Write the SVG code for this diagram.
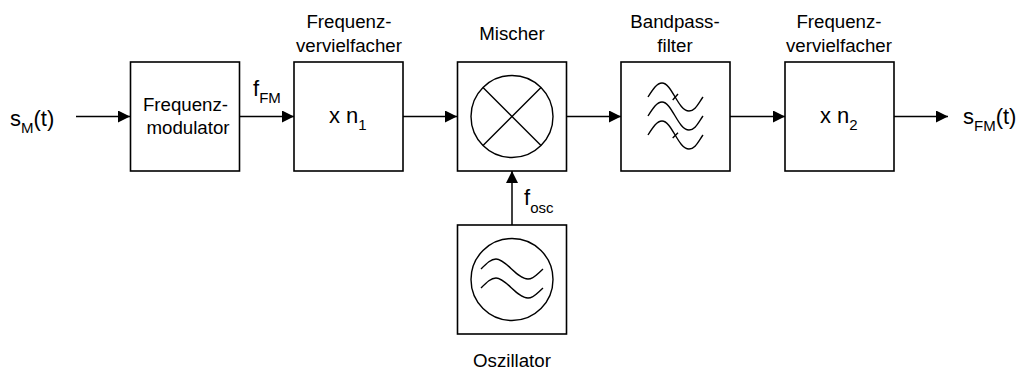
<svg xmlns="http://www.w3.org/2000/svg" width="1018" height="370" viewBox="0 0 1018 370">
<style>
text{font-family:"Liberation Sans",Arial,sans-serif;fill:#000;font-size:18.7px}
.m{text-anchor:middle}
.big{font-size:22px}
.sub{font-size:15px}
.b{fill:#fff;stroke:#000;stroke-width:1.6}
.l{fill:none;stroke:#000;stroke-width:1.5}
.t{fill:none;stroke:#000;stroke-width:1.4}
</style>
<defs>
<marker id="a" markerUnits="userSpaceOnUse" markerWidth="13" markerHeight="12" refX="12" refY="6" orient="auto"><path d="M0 0L12 6L0 12Z"/></marker>
<path id="fw" d="M0 14C5 6 9 0 14 0C24 0 30 28 41 28C47 28 50 21 55 14"/>
<path id="ow" d="M0 10C6 4 10 0 15 0C25 0 36 20 47 20C53 20 56 15 62 10"/>
</defs>
<rect width="1018" height="370" fill="#fff"/>
<g id="connectors">
<path class="l" marker-end="url(#a)" d="M76 116.500H130"/>
<path class="l" marker-end="url(#a)" d="M240 116.500H294"/>
<path class="l" marker-end="url(#a)" d="M403 116.500H457"/>
<path class="l" marker-end="url(#a)" d="M567 116.500H621"/>
<path class="l" marker-end="url(#a)" d="M730 116.500H785"/>
<path class="l" marker-end="url(#a)" d="M894 116.500H948"/>
<path class="l" marker-end="url(#a)" d="M512 225V171"/>
</g>
<g id="input"><text x="10" y="126" class="big">s<tspan class="sub" dy="7">M</tspan><tspan dy="-7">(t)</tspan></text></g>
<g id="modulator"><rect class="b" x="130.500" y="62" width="109" height="109"/><text class="m" x="185.500" y="111">Frequenz-</text><text class="m" x="188" y="134">modulator</text></g>
<g id="fFM"><text x="253" y="96" class="big">f<tspan class="sub" dy="7">FM</tspan></text></g>
<g id="mult1"><rect class="b" x="294" y="62" width="109" height="109"/><text class="m" x="349" y="28">Frequenz-</text><text class="m" x="349" y="52">vervielfacher</text><text x="329" y="123" class="big">x n<tspan class="sub" dy="7">1</tspan></text></g>
<g id="mixer"><rect class="b" x="457.500" y="62" width="109" height="109"/><circle class="t" cx="512" cy="116.500" r="41"/><path class="t" d="M483 87.500L541 145.500M541 87.500L483 145.500"/><text class="m" x="512" y="40">Mischer</text></g>
<g id="filter"><rect class="b" x="621" y="62" width="109" height="109"/><use href="#fw" x="648" y="83" class="t"/><use href="#fw" x="648" y="102" class="t"/><use href="#fw" x="648" y="121" class="t"/><path class="t" d="M672.700 100L678 94M672.700 138L678 132.700"/><text class="m" x="675" y="28">Bandpass-</text><text class="m" x="675" y="52">filter</text></g>
<g id="mult2"><rect class="b" x="785" y="62" width="109" height="109"/><text class="m" x="839" y="28">Frequenz-</text><text class="m" x="839" y="52">vervielfacher</text><text x="820" y="123" class="big">x n<tspan class="sub" dy="7">2</tspan></text></g>
<g id="output"><text x="963" y="124" class="big">s<tspan class="sub" dy="7">FM</tspan><tspan dy="-7">(t)</tspan></text></g>
<g id="fosc"><text x="524" y="205" class="big">f<tspan class="sub" dy="8">osc</tspan></text></g>
<g id="oscillator"><rect class="b" x="457.500" y="225" width="109" height="109"/><circle class="t" cx="512" cy="279.500" r="41"/><use href="#ow" x="481" y="259" class="t"/><use href="#ow" x="481" y="278" class="t"/><text class="m" x="512" y="367">Oszillator</text></g>
</svg>
